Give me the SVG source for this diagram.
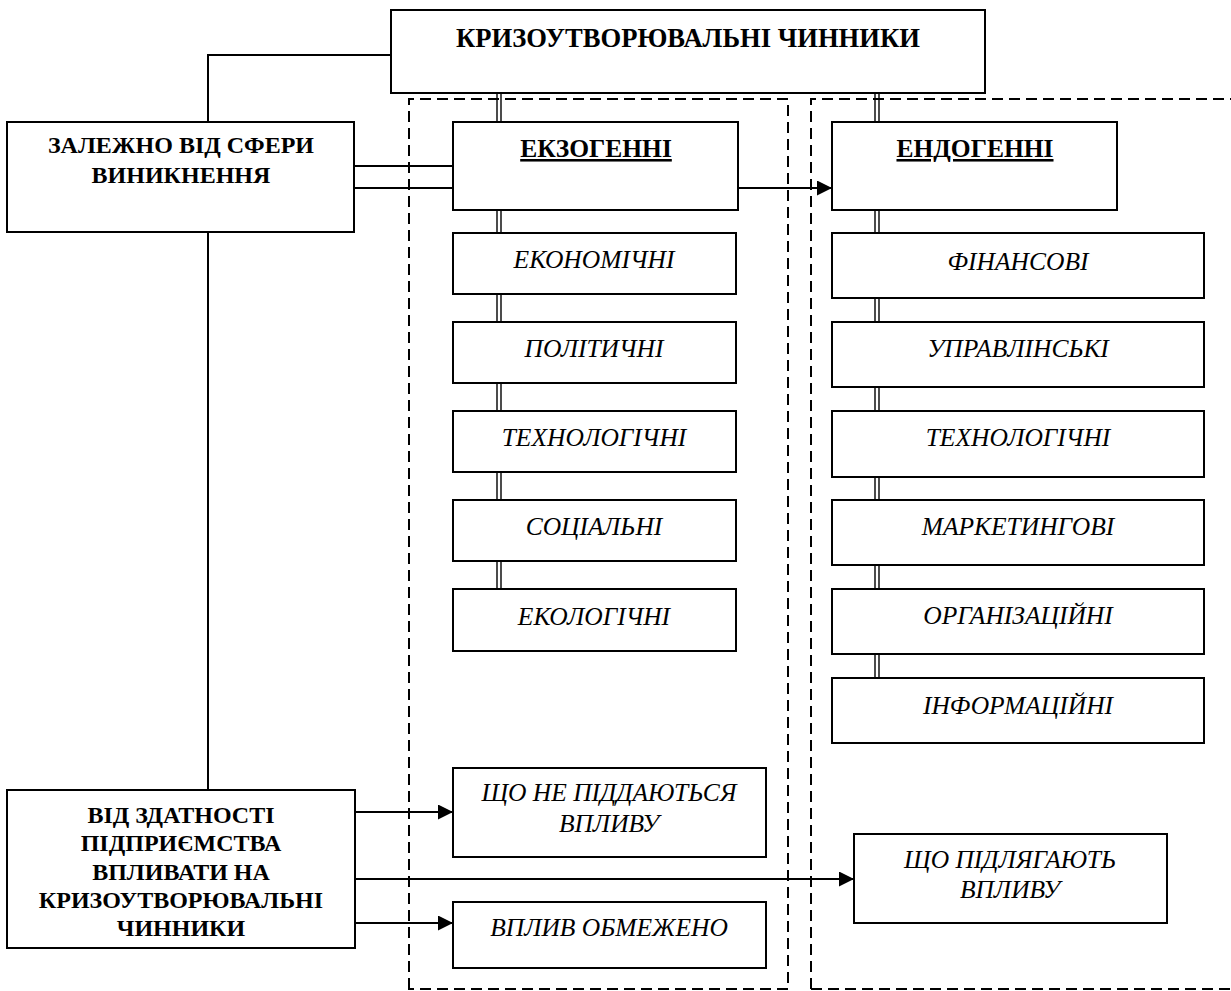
<svg xmlns="http://www.w3.org/2000/svg" width="1231" height="991" viewBox="0 0 1231 991">
<defs>
<marker id="arr" markerUnits="userSpaceOnUse" markerWidth="16" markerHeight="16" refX="15" refY="7.5" orient="auto">
<path d="M0,0 L15,7.5 L0,15 Z" fill="#000"/>
</marker>
<style>
.box{fill:#fff;stroke:#000;stroke-width:2}
.dash{fill:none;stroke:#000;stroke-width:2;stroke-dasharray:11 6}
.ln{fill:none;stroke:#000;stroke-width:2}
.dbl{fill:none;stroke:#000;stroke-width:1.4}
.b{font-family:"Liberation Serif","Times New Roman","DejaVu Serif",serif;font-weight:bold;font-size:24px;text-anchor:middle;fill:#000}
.h{font-size:25.5px}
.t{font-size:26.6px}
.i{font-family:"Liberation Serif","Times New Roman","DejaVu Serif",serif;font-style:italic;font-size:25.5px;text-anchor:middle;fill:#000}
</style>
</defs>
<rect width="1231" height="991" fill="#fff"/>

<g id="groups">
<path class="dash" d="M409,989 V99 H788 V989 Z"/>
<path class="dash" d="M811,989 V99 H1240 M811,989 H1240"/>
</g>

<g id="connectors">
<path class="ln" d="M391,55 H208 V122 M208,232 V790"/>
<path class="ln" d="M354,166 H453 M354,188 H453"/>
<path class="dbl" d="M497,93 V122 M501,93 V122 M497,211 V233 M501,211 V233 M497,294 V322 M501,294 V322 M497,383 V411 M501,383 V411 M497,472 V500 M501,472 V500 M497,561 V589 M501,561 V589"/>
<path class="dbl" d="M875,93 V122 M879,93 V122 M875,210 V233 M879,210 V233 M875,298 V322 M879,298 V322 M875,387 V411 M879,387 V411 M875,477 V500 M879,477 V500 M875,565 V589 M879,565 V589 M875,654 V678 M879,654 V678"/>
<path class="ln" d="M738,188 H832" marker-end="url(#arr)"/>
<path class="ln" d="M355,812 H453" marker-end="url(#arr)"/>
<path class="ln" d="M355,879 H854" marker-end="url(#arr)"/>
<path class="ln" d="M355,923 H453" marker-end="url(#arr)"/>
</g>

<g id="n-root">
<rect class="box" x="391" y="10" width="594" height="83"/>
<text class="b t" x="688" y="47">КРИЗОУТВОРЮВАЛЬНІ ЧИННИКИ</text>
</g>

<g id="n-sphere">
<rect class="box" x="7" y="122" width="347" height="110"/>
<text class="b" x="181" y="153">ЗАЛЕЖНО ВІД СФЕРИ</text>
<text class="b" x="181" y="183">ВИНИКНЕННЯ</text>
</g>

<g id="n-exo">
<rect class="box" x="453" y="122" width="285" height="88"/>
<text class="b h" x="596" y="157" text-decoration="underline">ЕКЗОГЕННІ</text>
</g>

<g id="n-endo">
<rect class="box" x="832" y="122" width="285" height="88"/>
<text class="b h" x="975" y="157" text-decoration="underline">ЕНДОГЕННІ</text>
</g>

<g id="n-econ"><rect class="box" x="453" y="233" width="283" height="61"/><text class="i" x="594" y="268">ЕКОНОМІЧНІ</text></g>
<g id="n-polit"><rect class="box" x="453" y="322" width="283" height="61"/><text class="i" x="594" y="357">ПОЛІТИЧНІ</text></g>
<g id="n-tech1"><rect class="box" x="453" y="411" width="283" height="61"/><text class="i" x="594" y="446">ТЕХНОЛОГІЧНІ</text></g>
<g id="n-soc"><rect class="box" x="453" y="500" width="283" height="61"/><text class="i" x="594" y="535">СОЦІАЛЬНІ</text></g>
<g id="n-ecol"><rect class="box" x="453" y="589" width="283" height="62"/><text class="i" x="594" y="625">ЕКОЛОГІЧНІ</text></g>

<g id="n-fin"><rect class="box" x="832" y="233" width="372" height="65"/><text class="i" x="1018" y="270">ФІНАНСОВІ</text></g>
<g id="n-mgmt"><rect class="box" x="832" y="322" width="372" height="65"/><text class="i" x="1018" y="357">УПРАВЛІНСЬКІ</text></g>
<g id="n-tech2"><rect class="box" x="832" y="411" width="372" height="66"/><text class="i" x="1018" y="446">ТЕХНОЛОГІЧНІ</text></g>
<g id="n-mark"><rect class="box" x="832" y="500" width="372" height="65"/><text class="i" x="1018" y="535">МАРКЕТИНГОВІ</text></g>
<g id="n-org"><rect class="box" x="832" y="589" width="372" height="65"/><text class="i" x="1018" y="624">ОРГАНІЗАЦІЙНІ</text></g>
<g id="n-info"><rect class="box" x="832" y="678" width="372" height="65"/><text class="i" x="1018" y="714">ІНФОРМАЦІЙНІ</text></g>

<g id="n-ability">
<rect class="box" x="7" y="790" width="348" height="158"/>
<text class="b" x="181" y="823">ВІД ЗДАТНОСТІ</text>
<text class="b" x="181" y="851">ПІДПРИЄМСТВА</text>
<text class="b" x="181" y="880">ВПЛИВАТИ НА</text>
<text class="b" x="181" y="908">КРИЗОУТВОРЮВАЛЬНІ</text>
<text class="b" x="181" y="936">ЧИННИКИ</text>
</g>

<g id="n-notsubj">
<rect class="box" x="453" y="768" width="313" height="89"/>
<text class="i" x="609" y="801">ЩО НЕ ПІДДАЮТЬСЯ</text>
<text class="i" x="609" y="832">ВПЛИВУ</text>
</g>

<g id="n-limited">
<rect class="box" x="453" y="902" width="313" height="66"/>
<text class="i" x="609" y="936">ВПЛИВ ОБМЕЖЕНО</text>
</g>

<g id="n-subj">
<rect class="box" x="854" y="834" width="313" height="89"/>
<text class="i" x="1010" y="868">ЩО ПІДЛЯГАЮТЬ</text>
<text class="i" x="1010" y="898">ВПЛИВУ</text>
</g>
</svg>
